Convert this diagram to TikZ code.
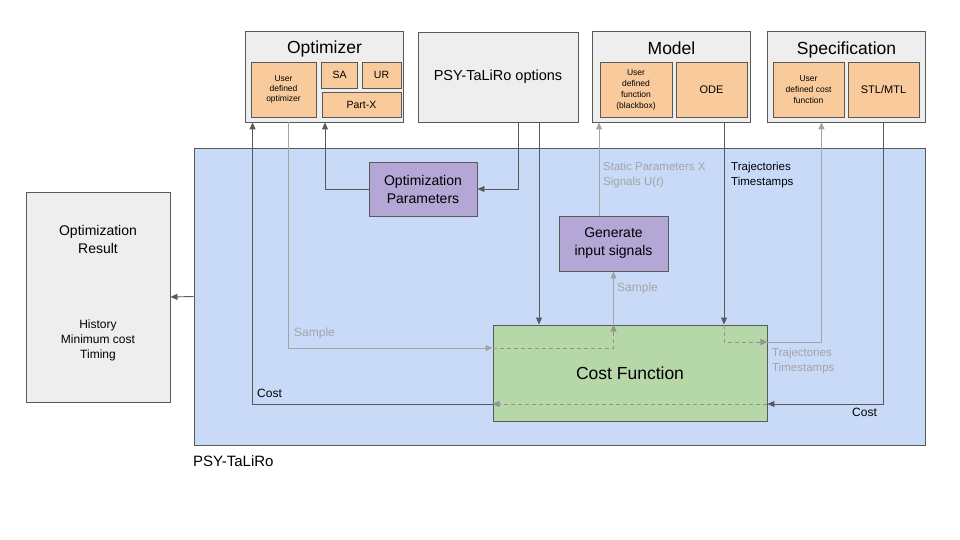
\documentclass[tikz,border=0pt]{standalone}
\usepackage{fontspec}
\setmainfont{Liberation Sans}
\usetikzlibrary{arrows.meta}

\definecolor{boxgray}{HTML}{EEEEEE}
\definecolor{boxorange}{HTML}{F9CB9C}
\definecolor{boxblue}{HTML}{C9DAF8}
\definecolor{boxpurple}{HTML}{B4A7D6}
\definecolor{boxgreen}{HTML}{B6D7A8}
\definecolor{linedark}{HTML}{595959}
\definecolor{linegray}{HTML}{A3A3A3}

\tikzset{
  fs/.style 2 args={font={\fontsize{#1}{#2}\selectfont}},
  box/.style={draw=linedark, line width=0.9pt, inner sep=0pt, align=center},
  outerbox/.style={box, fill=boxgray, minimum width=158pt, minimum height=91pt},
  innerbox/.style={box, fill=boxorange},
  tip/.style={-{Triangle[length=7pt,width=6pt]}},
  darkline/.style={draw=linedark, line width=0.9pt, tip},
  grayline/.style={draw=linegray, line width=0.9pt, tip},
  graydash/.style={draw=linegray!90!black, line width=0.9pt, dash pattern=on 4pt off 3pt, tip},
  lbl/.style={inner sep=0pt, anchor=west, align=left},
}

\begin{document}
\begin{tikzpicture}[x=1pt, y=-1pt]
    \useasboundingbox (0,0) rectangle (960,540);

    % PSY-TaLiRo frame
    \node[box, fill=boxblue, minimum width=731pt, minimum height=297pt] (taliro) at (559.5,296.5) {};
    \node[lbl, fs={15}{18}] (talironame) at (193,461) {PSY-TaLiRo};

    % top row
    \node[outerbox] (opt) at (324.5,76.5) {};
    \node[fs={17.5}{20}] (opttitle) at (324.5,48.5) {Optimizer};
    \node[innerbox, minimum width=65pt, minimum height=55pt, fs={8.5}{10}] (optuser) at (283.5,89.5) {User\\defined\\optimizer};
    \node[innerbox, minimum width=36pt, minimum height=26pt, fs={10.5}{12}] (sa) at (339.5,75) {SA};
    \node[innerbox, minimum width=39pt, minimum height=26pt, fs={10.5}{12}] (ur) at (381.5,75) {UR};
    \node[innerbox, minimum width=79pt, minimum height=25pt, fs={10.5}{12}] (partx) at (361.5,104.5) {Part-X};

    \node[outerbox, minimum width=160pt, minimum height=90pt, fs={14.5}{17}] (opts) at (498,77) {PSY-TaLiRo options};

    \node[outerbox] (model) at (671.5,76.5) {};
    \node[fs={17.5}{20}] (modeltitle) at (671.5,48) {Model};
    \node[innerbox, minimum width=72pt, minimum height=55pt, fs={8.5}{11}] (modeluser) at (636,89.5) {User\\defined\\function\\(blackbox)};
    \node[innerbox, minimum width=71pt, minimum height=55pt, fs={11}{13}] (ode) at (711.5,89.5) {ODE};

    \node[outerbox] (spec) at (846.5,76.5) {};
    \node[fs={17.5}{20}] (spectitle) at (846.5,49.5) {Specification};
    \node[innerbox, minimum width=71pt, minimum height=55pt, fs={8.5}{11}] (specuser) at (808.5,89.5) {User\\defined cost\\function};
    \node[innerbox, minimum width=71pt, minimum height=55pt, fs={11}{13}] (stl) at (883.5,89.5) {STL/MTL};

    % inside the frame
    \node[box, fill=boxpurple, minimum width=108pt, minimum height=54pt, fs={14}{18}] (optpar) at (423,189) {Optimization\\Parameters};
    \node[box, fill=boxpurple, minimum width=109pt, minimum height=55pt, fs={14}{18}] (gen) at (613.5,243.5) {Generate\\input signals};
    \node[box, fill=boxgreen, minimum width=274pt, minimum height=96pt, fs={17.5}{20}] (cost) at (630,373) {Cost Function};

    % result
    \node[box, fill=boxgray, minimum width=144pt, minimum height=210pt] (result) at (98,297) {};
    \node[fs={14}{18}, align=center] (resulttitle) at (98,239) {Optimization\\Result};
    \node[fs={12}{15}, align=center] (resultitems) at (98,340) {History\\Minimum cost\\Timing};

    % helper points
    \coordinate (optx) at ([xshift=-14.5pt]sa.south);
    \coordinate (samplex) at ([xshift=43.5pt]opt.south west);
    \coordinate (costx) at ([xshift=7.5pt]opt.south west);
    \coordinate (parx) at ([xshift=20pt]opts.south);
    \coordinate (cfx) at ([xshift=41pt]opts.south);
    \coordinate (genx) at ([xshift=-14.5pt]gen.north);
    \coordinate (odex) at ([xshift=12.5pt]ode.south);
    \coordinate (specx) at ([xshift=13pt]specuser.south);
    \coordinate (sampleleft) at ([yshift=25pt]cost.west);
    \coordinate (trajright) at ([yshift=31pt]cost.east);
    \coordinate (costleft) at ([yshift=-31pt]cost.west);
    \coordinate (costright) at ([yshift=-31pt]cost.east);

    % connectors
    \draw[darkline] (taliro.west) -- (result.east);
    \draw[darkline] (optpar.west) -| (optx |- opt.south);
    \draw[darkline] (parx |- opts.south) |- (optpar.east);
    \draw[darkline] (cfx |- opts.south) -- (cfx |- cost.north);
    \draw[grayline] (samplex |- opt.south) |- (sampleleft);
    \draw[graydash] (sampleleft) -| (gen.south |- cost.north);
    \draw[grayline] (gen.south |- cost.north) -- (gen.south);
    \draw[grayline] (genx) -- (genx |- model.south);
    \draw[darkline] (odex |- model.south) -- (odex |- cost.north);
    \draw[graydash] (odex |- cost.north) |- (trajright);
    \draw[grayline] (trajright) -| (specx |- spec.south);
    \draw[darkline] (stl.south |- spec.south) |- (costright);
    \draw[graydash] (costright) -- (costleft);
    \draw[darkline] (costleft) -| (costx |- opt.south);

    % connector labels
    \node[lbl, fs={11.5}{15}, text=linegray] (paramlabel) at (603,175) {Static Parameters X\\Signals U(\textit{t})};
    \node[lbl, fs={11.5}{15}] (trajlabel) at (731,175) {Trajectories\\Timestamps};
    \node[lbl, fs={12}{14}, text=linegray] (samplelabel) at (294,333) {Sample};
    \node[lbl, fs={12}{14}, text=linegray] (samplelabeltwo) at (617,288) {Sample};
    \node[lbl, fs={12}{14}] (costlabel) at (257,393) {Cost};
    \node[lbl, fs={12}{14}] (costlabeltwo) at (852,412) {Cost};
    \node[lbl, fs={11.5}{15}, text=linegray] (trajlabeltwo) at (772,361) {Trajectories\\Timestamps};
\end{tikzpicture}
\end{document}
